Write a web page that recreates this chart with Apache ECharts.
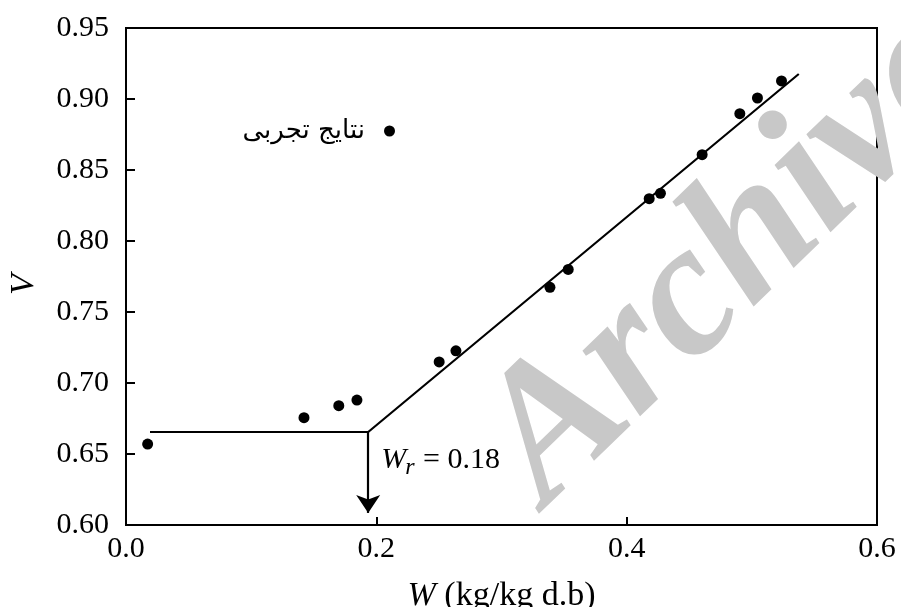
<!DOCTYPE html>
<html>
<head>
<meta charset="utf-8">
<script src="https://cdn.jsdelivr.net/npm/echarts@6/dist/echarts.min.js"></script>
<style>
  html, body { margin: 0; padding: 0; background: #fff; }
  #chart { width: 901px; height: 607px; }
</style>
</head>
<body>
<div id="chart"></div>
<script>
// experimental points (W, V)
const moisture = [0.0173, 0.1422, 0.170, 0.1845, 0.2502, 0.2636, 0.3387, 0.3533, 0.418, 0.427, 0.4603, 0.4904, 0.5045, 0.5237];
const volume   = [0.657, 0.6756, 0.684, 0.688, 0.7148, 0.7227, 0.7674, 0.780, 0.8298, 0.8336, 0.8608, 0.8897, 0.9007, 0.9127];

// fitted broken line
const fitMoisture = [0.0192, 0.1935, 0.5375];
const fitVolume   = [0.6655, 0.6655, 0.9176];

// arrow at the break point
const breakW = 0.1935;
const arrowFromV = 0.6655;
const arrowToV = 0.6085;
const wrText = ' = 0.18';

const legendName = 'نتایج تجربی';
const serif = '"Liberation Serif", "Times New Roman", serif';

let chart = echarts.init(document.getElementById('chart'));

chart.setOption({
    animation: false,
    backgroundColor: '#fff',
    grid: {
        left: 126,
        right: 24,
        top: 28,
        bottom: 82,
        outerBoundsMode: 'none',
        containLabel: false,
        show: true,
        borderColor: '#000',
        borderWidth: 2
    },
    legend: {
        data: [legendName],
        align: 'right',
        right: 506,
        top: 118,
        padding: 0,
        icon: 'circle',
        itemWidth: 11,
        itemHeight: 11,
        itemStyle: { color: '#000', opacity: 1 },
        textStyle: {
            fontFamily: '"DejaVu Sans"',
            fontSize: 26,
            color: '#000',
            padding: [0, 14, 0, 0]
        }
    },
    xAxis: {
        type: 'value',
        min: 0,
        max: 0.6,
        interval: 0.2,
        name: '{i|W} (kg/kg d.b)',
        nameLocation: 'middle',
        nameGap: 54,
        nameTextStyle: {
            fontFamily: serif,
            fontSize: 34,
            color: '#000',
            rich: {
                i: { fontFamily: serif, fontSize: 34, fontStyle: 'italic', color: '#000' }
            }
        },
        splitLine: { show: false },
        axisLine: { lineStyle: { color: '#000', width: 2 } },
        axisTick: { inside: true, length: 8, lineStyle: { color: '#000', width: 2 } },
        axisLabel: {
            fontFamily: serif,
            fontSize: 30,
            color: '#000',
            margin: 9,
            formatter: (v) => v.toFixed(1)
        }
    },
    yAxis: {
        type: 'value',
        min: 0.6,
        max: 0.95,
        interval: 0.05,
        name: 'V',
        nameLocation: 'middle',
        nameGap: 85,
        nameTextStyle: {
            fontFamily: serif,
            fontSize: 34,
            fontStyle: 'italic',
            color: '#000',
            padding: [0, 16, 0, 0]
        },
        splitLine: { show: false },
        axisLine: { lineStyle: { color: '#000', width: 2 } },
        axisTick: { inside: true, length: 9, lineStyle: { color: '#000', width: 2 } },
        axisLabel: {
            fontFamily: serif,
            fontSize: 30,
            color: '#000',
            margin: 17,
            formatter: (v) => v.toFixed(2)
        }
    },
    series: [
        {
            type: 'line',
            data: fitMoisture.map((w, i) => [w, fitVolume[i]]),
            symbol: 'none',
            lineStyle: { color: '#000', width: 2.2 },
            z: 3,
            markLine: {
                silent: true,
                symbol: ['none', 'arrow'],
                symbolSize: 18,
                label: { show: false },
                lineStyle: { color: '#000', width: 2.2, type: 'solid' },
                itemStyle: { color: '#000' },
                data: [[
                    { coord: [breakW, arrowFromV] },
                    { coord: [breakW, arrowToV] }
                ]]
            }
        },
        {
            name: legendName,
            type: 'scatter',
            data: moisture.map((w, i) => [w, volume[i]]),
            symbol: 'circle',
            symbolSize: 11,
            itemStyle: { color: '#000', opacity: 1 },
            z: 4
        }
    ]
});

// W_r = 0.18 annotation, placed next to the arrow
const ctx = document.createElement('canvas').getContext('2d');
function textWidth(font, s) {
    ctx.font = font;
    return ctx.measureText(s).width;
}
const fontW = 'italic 30px ' + serif;
const fontR = 'italic 24px ' + serif;
const fontN = '30px ' + serif;
const [px, py] = chart.convertToPixel({ gridIndex: 0 }, [breakW, arrowFromV]);
const x0 = px + 13;
const yMid = py + 28;
const wW = textWidth(fontW, 'W');
const wR = textWidth(fontR, 'r');

chart.setOption({
    graphic: [
        {
            type: 'text',
            z: 0,
            x: 578,
            y: 540,
            rotation: 44 * Math.PI / 180,
            style: {
                text: 'Archive',
                font: 'italic bold 190px ' + serif,
                fill: '#c8c8c8',
                textAlign: 'left',
                textVerticalAlign: 'bottom'
            },
            silent: true
        },
        {
            type: 'text', z: 10, x: x0, y: yMid,
            style: { text: 'W', font: fontW, fill: '#000', textVerticalAlign: 'middle' }
        },
        {
            type: 'text', z: 10, x: x0 + wW - 1, y: yMid + 8,
            style: { text: 'r', font: fontR, fill: '#000', textVerticalAlign: 'middle' }
        },
        {
            type: 'text', z: 10, x: x0 + wW + wR, y: yMid,
            style: { text: wrText, font: fontN, fill: '#000', textVerticalAlign: 'middle' }
        }
    ]
});
</script>
</body>
</html>
